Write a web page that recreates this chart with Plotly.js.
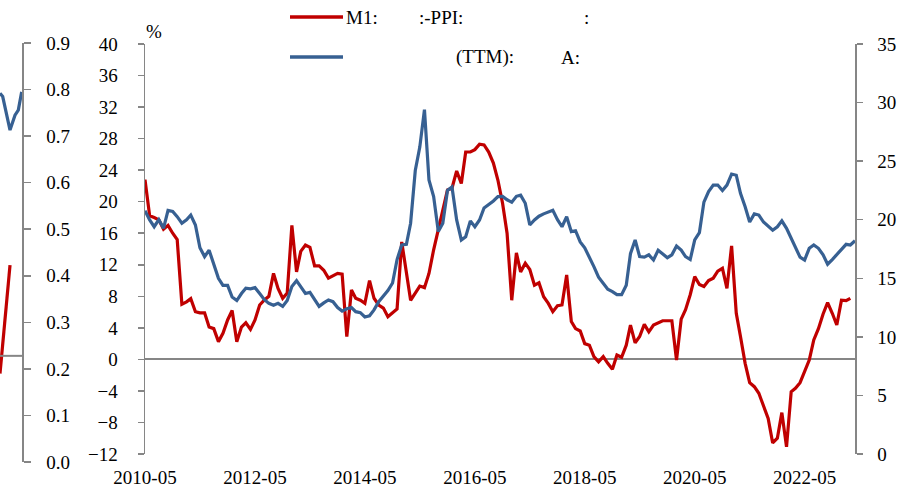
<!DOCTYPE html>
<html>
<head>
<meta charset="utf-8">
<script src="https://cdn.plot.ly/plotly-3.0.1.min.js"></script>
<style>html,body{margin:0;padding:0;background:#fff;}#chart{width:897px;height:490px;}</style>
</head>
<body>
<div id="chart"></div>
<script>
// ---- data ----
const startMonth = '2010-05';
const xTickLabels = ['2010-05','2012-05','2014-05','2016-05','2018-05','2020-05','2022-05'];
const redName = 'M1:';
const blueName = '(TTM):';
// red series (left axis, %), monthly from 2010-05
const redValues = [22.8,18.2,18.0,17.7,16.5,17.0,16.0,15.2,7.0,7.3,7.7,6.05,5.9,5.9,4.1,3.9,2.25,3.3,5.0,6.2,
  2.25,4.1,4.65,3.8,5.0,6.9,7.5,8.0,10.9,9.0,7.75,8.4,17.0,11.1,13.7,14.5,14.2,11.85,11.85,11.3,
  10.3,10.6,10.9,10.8,2.9,8.8,7.75,7.5,7.1,10.0,7.75,6.9,6.5,5.4,5.9,6.4,14.9,11.3,7.5,8.4,
  9.3,9.1,10.9,13.9,16.4,18.9,21.5,21.7,23.9,22.3,26.3,26.3,26.6,27.3,27.2,26.3,24.9,22.75,19.8,16.0,
  7.5,13.5,11.1,12.2,11.4,9.4,9.7,7.95,7.1,6.05,6.8,6.9,10.7,4.8,3.9,3.6,2.0,1.8,0.35,-0.3,
  0.35,-0.5,-1.25,0.56,0.27,1.8,4.35,2.1,2.9,4.45,3.5,4.35,4.65,4.9,4.9,4.9,-0.08,5.1,6.3,8.2,
  10.5,9.5,9.25,10.0,10.3,11.2,11.55,9.0,14.4,5.85,2.9,-0.5,-2.95,-3.46,-4.3,-5.8,-7.5,-10.6,-10.0,-6.75,
  -11.1,-4.1,-3.67,-2.95,-1.56,-0.08,2.46,3.9,5.76,7.2,5.85,4.36,7.5,7.45,7.75];
// blue series (right axis), monthly from 2010-05
const blueValues = [20.77,19.98,19.4,20.0,19.27,20.8,20.7,20.26,19.7,20.0,20.4,19.55,17.6,16.85,17.4,16.3,15.0,14.4,14.4,13.4,
  13.1,13.7,14.15,14.1,14.2,13.7,13.2,12.86,12.7,12.86,12.6,13.1,14.3,14.8,14.3,13.7,13.8,13.15,12.6,12.9,
  13.15,13.0,12.5,12.2,12.4,12.5,12.15,12.07,11.7,11.8,12.3,13.0,13.5,13.95,14.6,16.6,17.85,17.9,19.7,24.2,
  26.2,29.4,23.4,21.97,19.0,19.7,22.5,22.8,19.98,18.27,18.55,19.9,19.4,19.98,21.0,21.26,21.6,21.97,22.0,21.7,
  21.5,22.0,22.1,21.4,19.55,19.98,20.3,20.5,20.65,20.8,20.0,19.4,20.26,18.98,19.06,18.1,17.6,16.85,16.0,15.1,
  14.6,14.06,13.86,13.6,13.6,14.4,17.1,18.27,16.85,16.8,17.0,16.56,17.4,17.1,16.76,17.0,17.76,17.4,16.85,16.6,
  18.27,18.9,21.5,22.4,22.96,22.96,22.5,22.96,23.9,23.8,22.25,21.1,19.8,20.5,20.4,19.8,19.4,19.1,19.4,19.9,
  19.27,18.4,17.56,16.8,16.56,17.56,17.84,17.56,17.0,16.2,16.6,17.0,17.4,17.9,17.84,18.2];
// cropped fragment of a neighbouring chart at the far left
const fragX_blue = [0,0.59,2.19,3.28,4.0,4.74];
const fragY_blue = [0.792,0.785,0.713,0.745,0.756,0.795];
const fragX_red = [0,2.19];
const fragY_red = [0.190,0.423];
const fragBaseY = 0.228;

// ---- build month strings ----
function monthSeq(start, n){
  let [y,m] = start.split('-').map(Number);
  const out=[];
  for(let i=0;i<n;i++){
    out.push(y+'-'+String(m).padStart(2,'0')+'-01');
    m++; if(m>12){m=1;y++;}
  }
  return out;
}
const redDates = monthSeq(startMonth, redValues.length);
const blueDates = monthSeq(startMonth, blueValues.length);
const tickVals = xTickLabels.map(s=>s+'-01');

const RED='#C00000', BLUE='#376092', GRAY='#868686';
const W=897,H=490, ML=0, MR=42, MT=43, MB=28;
const PW=W-ML-MR, PH=H-MT-MB;
const px=x=>(x-ML)/PW, py=y=>(H-MB-y)/PH;

const traces=[
  {x:redDates,y:redValues,type:'scatter',mode:'lines',name:redName,line:{color:RED,width:3.2},xaxis:'x',yaxis:'y',hoverinfo:'skip'},
  {x:blueDates,y:blueValues,type:'scatter',mode:'lines',name:blueName,line:{color:BLUE,width:3.2},xaxis:'x',yaxis:'y2',hoverinfo:'skip'},
  {x:fragX_blue,y:fragY_blue,type:'scatter',mode:'lines',line:{color:BLUE,width:3.2},xaxis:'x2',yaxis:'y3',hoverinfo:'skip',showlegend:false},
  {x:fragX_red,y:fragY_red,type:'scatter',mode:'lines',line:{color:RED,width:3.2},xaxis:'x2',yaxis:'y3',hoverinfo:'skip',showlegend:false}
];

const fnt={family:'"Liberation Serif","Times New Roman",serif',size:19,color:'#000'};
const layout={
  width:W,height:H,margin:{l:ML,r:MR,t:MT,b:MB,pad:0},
  paper_bgcolor:'#fff',plot_bgcolor:'rgba(0,0,0,0)',showlegend:false,
  font:fnt,
  xaxis:{domain:[px(145),1],type:'date',range:['2010-05-01','2023-04-01'],tickvals:tickVals,ticktext:xTickLabels,
    showline:false,showgrid:false,zeroline:false,ticks:'',anchor:'y',ticklabelstandoff:10,tickfont:fnt},
  yaxis:{domain:[py(454),py(44)],range:[-12,40],tick0:0,dtick:4,anchor:'x',showline:true,linecolor:GRAY,linewidth:1.5,
    ticks:'outside',ticklen:6,tickcolor:GRAY,tickwidth:1.5,showgrid:false,zeroline:true,zerolinecolor:GRAY,zerolinewidth:2,
    ticklabelstandoff:16,tickfont:fnt},
  yaxis2:{overlaying:'y',side:'right',anchor:'x',range:[0,35],tick0:0,dtick:5,showline:true,linecolor:GRAY,linewidth:1.5,
    ticks:'outside',ticklen:6,tickcolor:GRAY,tickwidth:1.5,showgrid:false,zeroline:false,ticklabelstandoff:11,tickfont:fnt},
  xaxis2:{domain:[0,px(22)],range:[0,4.81],visible:false,anchor:'y3'},
  yaxis3:{domain:[0,1],anchor:'x2',side:'right',range:[0,0.9],tick0:0,dtick:0.1,tickformat:'.1f',showline:true,linecolor:GRAY,linewidth:1.5,
    ticks:'outside',ticklen:7,tickcolor:GRAY,tickwidth:1.5,showgrid:false,zeroline:false,ticklabelstandoff:12,tickfont:fnt},
  shapes:[
    {type:'line',xref:'x2 domain',yref:'y3',x0:0,x1:1,y0:fragBaseY,y1:fragBaseY,line:{color:GRAY,width:2}},
    {type:'line',xref:'paper',yref:'paper',x0:px(290),x1:px(343),y0:py(17),y1:py(17),line:{color:RED,width:3.5}},
    {type:'line',xref:'paper',yref:'paper',x0:px(290),x1:px(343),y0:py(57),y1:py(57),line:{color:BLUE,width:3.5}}
  ],
  annotations:[
    {text:redName,xref:'paper',yref:'paper',x:px(344),y:py(18),xanchor:'left',yanchor:'middle',showarrow:false,font:fnt},
    {text:':-PPI:',xref:'paper',yref:'paper',x:px(417),y:py(18),xanchor:'left',yanchor:'middle',showarrow:false,font:fnt},
    {text:':',xref:'paper',yref:'paper',x:px(582),y:py(18),xanchor:'left',yanchor:'middle',showarrow:false,font:fnt},
    {text:blueName,xref:'paper',yref:'paper',x:px(454),y:py(57),xanchor:'left',yanchor:'middle',showarrow:false,font:fnt},
    {text:'A:',xref:'paper',yref:'paper',x:px(559),y:py(57),xanchor:'left',yanchor:'middle',showarrow:false,font:fnt},
    {text:'%',xref:'paper',yref:'paper',x:px(144),y:py(31),xanchor:'left',yanchor:'middle',showarrow:false,font:fnt}
  ]
};
Plotly.newPlot('chart',traces,layout,{staticPlot:true,displayModeBar:false});
</script>
</body>
</html>
